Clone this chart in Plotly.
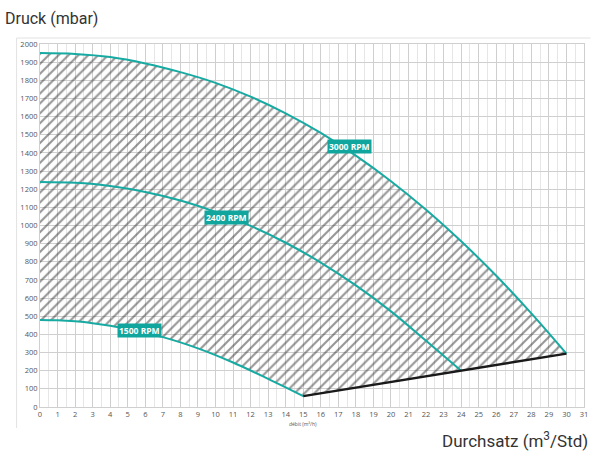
import plotly.graph_objects as go

# ---- data ----
x3000 = [0, 2, 4, 6, 8, 10, 12, 14, 16, 18, 20, 22, 24, 26, 28, 30]
y3000 = [1950, 1945, 1928, 1893, 1845, 1786, 1710, 1618, 1510, 1385, 1244, 1087, 913, 723, 516, 294]

x2400 = [0, 2, 4, 6, 8, 10, 12, 14, 16, 18, 20, 22, 24]
y2400 = [1240, 1235, 1218, 1185, 1138, 1075, 998, 905, 796, 670, 527, 365, 200]

x1500 = [0, 1, 2, 3, 4, 5, 6, 7, 8, 9, 10, 11, 12, 13, 14, 15]
y1500 = [480, 478, 472, 462, 448, 430, 409, 385, 356, 323, 286, 245, 201, 155, 108, 60]

x_limit = [15, 30]
y_limit = [60, 294]

x_ticks = list(range(0, 32))
y_ticks = list(range(0, 2100, 100))

labels = ["3000 RPM", "2400 RPM", "1500 RPM"]
label_x = [17.63, 10.64, 5.68]
label_y = [1433, 1042, 422]

TEAL = "#17aaa2"
LABEL_BG = "#10a59d"

# hatched operating region: top curve, limit line back, bottom curve back
poly_x = x3000 + x_limit[::-1] + x1500[::-1]
poly_y = y3000 + y_limit[::-1] + y1500[::-1]

fig = go.Figure()
fig.add_trace(go.Scatter(
    x=poly_x, y=poly_y, mode="none", fill="toself",
    line=dict(shape="spline", smoothing=1.0),
    fillcolor="rgba(255,255,255,0)",
    fillpattern=dict(shape="/", size=7, solidity=0.3, fgcolor="#2e2e2e",
                     bgcolor="rgba(255,255,255,0)", fillmode="overlay"),
    hoverinfo="skip", showlegend=False))

for xs, ys in [(x3000, y3000), (x2400, y2400), (x1500, y1500)]:
    fig.add_trace(go.Scatter(x=xs, y=ys, mode="lines",
                             line=dict(color=TEAL, width=2, shape="spline", smoothing=1.0),
                             showlegend=False))

fig.add_trace(go.Scatter(x=x_limit, y=y_limit, mode="lines",
                         line=dict(color="#1a1a1a", width=2.5), showlegend=False))

for t, lx, ly in zip(labels, label_x, label_y):
    fig.add_annotation(x=lx, y=ly, text="<b>" + t + "</b>", showarrow=False,
                       font=dict(family="Open Sans", size=8.5, color="white"),
                       bgcolor=LABEL_BG, borderpad=1)

fig.add_annotation(x=15, y=0, yshift=-17, text="débit (m³/h)", showarrow=False,
                   font=dict(family="Open Sans", size=5, color="#555"))

fig.add_annotation(xref="paper", yref="paper", x=-0.068, y=1.0716, xanchor="left",
                   yanchor="middle", text="Druck (mbar)", showarrow=False,
                   font=dict(family="Roboto", size=16, color="#333"))
fig.add_annotation(xref="paper", yref="paper", x=1.011, y=-0.0909, xanchor="right",
                   yanchor="middle", text="Durchsatz (m<sup>3</sup>/Std)", showarrow=False,
                   font=dict(family="Roboto", size=17, color="#333"))

# light outer frame (left and top edges)
fig.add_shape(type="line", xref="paper", yref="paper", x0=-0.043, x1=-0.043, y0=-0.058, y1=1.0165,
              line=dict(color="#e2e2e2", width=1))
fig.add_shape(type="line", xref="paper", yref="paper", x0=-0.043, x1=1.012, y0=1.0165, y1=1.0165,
              line=dict(color="#e2e2e2", width=1))

fig.update_xaxes(range=[0, 31], tickvals=x_ticks, ticktext=[str(v) for v in x_ticks],
                 showgrid=True, gridcolor="#cfcfcf", gridwidth=1,
                 minor=dict(dtick=0.5, tick0=0, showgrid=True, gridcolor="#e6e6e6"),
                 zeroline=False, showline=True, linecolor="#cfcfcf", mirror=True,
                 tickfont=dict(family="Open Sans", size=7.5, color="#555"), ticks="")
fig.update_yaxes(range=[0, 2000], tickvals=y_ticks, ticktext=[str(v) for v in y_ticks],
                 showgrid=True, gridcolor="#cfcfcf", gridwidth=1,
                 zeroline=False, showline=True, linecolor="#cfcfcf", mirror=True,
                 tickfont=dict(family="Open Sans", size=7.5, color="#555"), ticks="")

fig.update_layout(width=600, height=451, margin=dict(l=40, r=16, t=44, b=44),
                  plot_bgcolor="white", paper_bgcolor="white", showlegend=False)

fig.write_html("out.html", config={"displayModeBar": False},
               post_script="document.body.style.margin='0';")
